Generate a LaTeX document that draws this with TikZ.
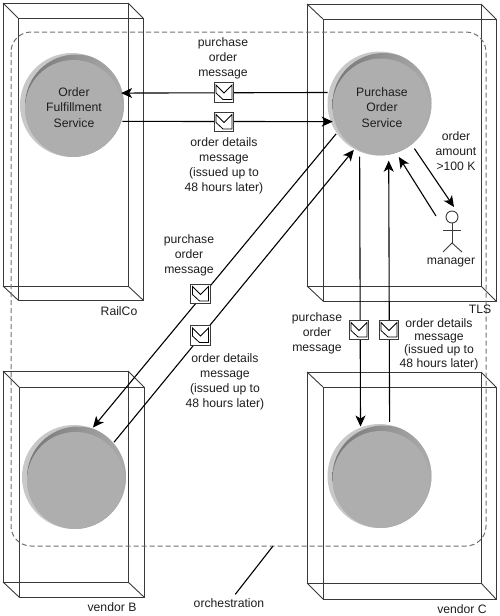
\documentclass[tikz,border=0pt]{standalone}
\usepackage{fontspec}
\setmainfont{Liberation Sans}
\usetikzlibrary{arrows.meta}
\definecolor{ink}{HTML}{1E1E1E}
\definecolor{boxgrey}{HTML}{3A3A3A}
\definecolor{dashgrey}{HTML}{707070}
\definecolor{discmain}{HTML}{AEAEAE}
\definecolor{discdark}{HTML}{767676}
\definecolor{disclight}{HTML}{C8C8C8}
\tikzset{
  boxline/.style={
    draw=boxgrey,
    line width=0.9pt
  },
  svcdisc/.style={
    circle,
    minimum size=104pt,
    inner sep=0pt,
    outer sep=1pt,
    path picture={
      \fill[disclight] (path picture bounding box.center) circle (53pt);
      \shade[left color=discdark, right color=discmain]
        ([shift={(4pt,-0.5pt)}]path picture bounding box.center) circle (51pt);
      \fill[discmain] ([shift={(1.5pt,-3.5pt)}]path picture bounding box.center) circle (48.5pt);
    }
  },
  svctext/.style={
    text=ink,
    font=\fontsize{12.2}{15.2}\selectfont,
    align=center,
    inner sep=0pt
  },
  msgtext/.style={
    text=ink,
    font=\fontsize{12.2}{15}\selectfont,
    align=center,
    inner sep=0pt
  },
  msgicon/.style={
    rectangle,
    draw=boxgrey,
    fill=white,
    line width=0.7pt,
    minimum size=19.5pt,
    inner sep=0pt,
    path picture={
      \draw[black, line width=0.8pt]
        ([shift={(-8pt,7.5pt)}]path picture bounding box.center)
        -- ([shift={(0pt,-0.5pt)}]path picture bounding box.center)
        -- ([shift={(8pt,7.5pt)}]path picture bounding box.center)
        -- ([shift={(8pt,-7pt)}]path picture bounding box.center)
        -- ([shift={(-1pt,-7pt)}]path picture bounding box.center)
        -- ([shift={(-8pt,-0.5pt)}]path picture bounding box.center)
        -- cycle;
    }
  },
  arrow/.style={
    -{Stealth[length=11pt,width=10pt,inset=3pt]},
    draw=black,
    line width=1.1pt
  },
  plainline/.style={
    draw=black,
    line width=1.1pt
  }
}

\begin{document}
\begin{tikzpicture}[x=1pt,y=-1pt]
  \useasboundingbox (0,0) rectangle (500,616);

  % Containers, back face then front face
  \foreach \xa/\ya/\xb/\yb/\xc/\yc/\xd/\yd in {
    3/3/128/286/18/18/143/300,
    307/4/481/286/323/19/496/301,
    3/371/128/582/19/387/144/597,
    307/372/481/583/323/387/496/599} {
    \draw[boxline] (\xa,\ya) rectangle (\xb,\yb);
    \draw[boxline] (\xc,\yc) rectangle (\xd,\yd);
    \draw[boxline] (\xa,\ya) -- (\xc,\yc);
    \draw[boxline] (\xb,\ya) -- (\xd,\yc);
    \draw[boxline] (\xa,\yb) -- (\xc,\yd);
    \draw[boxline] (\xb,\yb) -- (\xd,\yd);
  }

  % Orchestration boundary
  \draw[dashgrey, line width=1pt, dash pattern=on 5pt off 3pt, rounded corners=20pt]
    (11,32) rectangle (486,546);
  \coordinate (orchtop) at (273,546);
  \node[msgtext] (orch) at (229,603) {orchestration};
  \draw[plainline, shorten >=5pt] (orchtop) -- (orch.56);

  % Services
  \node[svcdisc] (ofs) at (72,105) {};
  \node[svcdisc] (pos) at (379.5,103.5) {};
  \node[svcdisc] (vb) at (74,477) {};
  \node[svcdisc] (vc) at (379.5,476) {};
  \node[svctext] (ofstext) at (74,107.5) {Order\\Fulfillment\\Service};
  \node[svctext] (postext) at (382,107.5) {Purchase\\Order\\Service};

  % Messages between services
  \draw[arrow, shorten >=-2.5pt] (pos.168.8) -- (ofs.13.4);
  \draw[arrow, shorten >=-3pt] (ofs.-18.3) -- (pos.200.6);
  \draw[arrow] (pos.215.5) -- (vb.69);
  \draw[arrow] (vb.41) -- (pos.241.8);
  \draw[arrow, shorten <=4pt] (pos.248.3) -- (vc.111.7);
  \draw[arrow, shorten <=2pt, shorten >=5pt] (vc.79.3) -- (pos.280.7);

  \node[msgicon] (envofs) at (224,92.5) {};
  \node[msgicon] (envofsback) at (224,122) {};
  \node[msgicon] (envvb) at (200.5,294) {};
  \node[msgicon] (envvbback) at (200.5,335.5) {};
  \node[msgicon] (envvc) at (359,330) {};
  \node[msgicon] (envvcback) at (389,330) {};

  \node[msgtext] (lblofs) at (223,58) {purchase\\order\\message};
  \node[msgtext] (lblofsback) at (224,166) {order details\\message\\(issued up to\\48 hours later)};
  \node[msgtext] (lblvb) at (189,255) {purchase\\order\\message};
  \node[msgtext] (lblvbback) at (225,381.5) {order details\\message\\(issued up to\\48 hours later)};
  \node[msgtext] (lblvc) at (317,333) {purchase\\order\\message};
  \node[msgtext, font=\fontsize{12.2}{13.4}\selectfont] (lblvcback) at (439,344) {order details\\message\\(issued up to\\48 hours later)};

  % Manager approval
  \node[circle, boxline, minimum size=12pt, inner sep=0pt] (manager) at (452,217) {};
  \draw[boxline] (manager.south) -- (452,243);
  \draw[boxline] (443,230) -- (461,230);
  \draw[boxline] (443,252) -- (452,243) -- (462,252);
  \coordinate (mgrin) at (454,207);
  \coordinate (mgrout) at (436,216);
  \draw[arrow, shorten <=4pt] (pos.308.7) -- (mgrin);
  \draw[arrow, shorten >=4pt] (mgrout) -- (pos.289.7);
  \node[msgtext] (lblamount) at (456,151) {order\\amount\\>100 K};
  \node[msgtext] (lblmanager) at (451,262) {manager};

  % Container names
  \node[msgtext] (railco) at (119,311) {RailCo};
  \node[msgtext] (tls) at (480,309) {TLS};
  \node[msgtext] (vendorb) at (112,607) {vendor B};
  \node[msgtext] (vendorc) at (462,609) {vendor C};
\end{tikzpicture}
\end{document}
